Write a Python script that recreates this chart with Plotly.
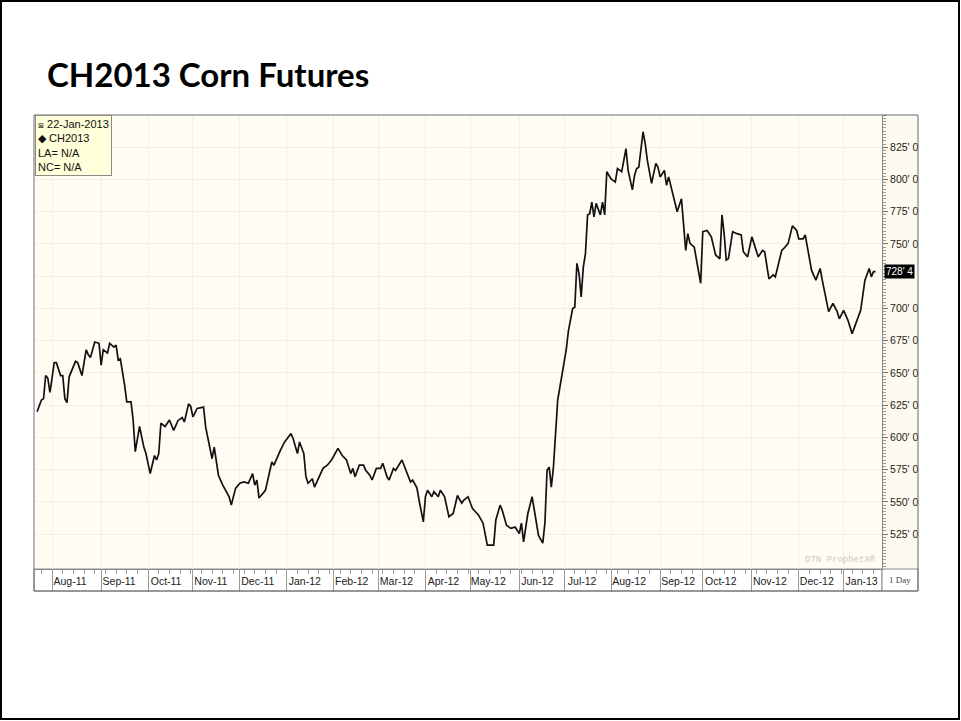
import plotly.graph_objects as go

# ---------------- data (daily closes, cents/bu) ----------------
dates = [
    "2011-07-21", "2011-07-25", "2011-07-26", "2011-07-27", "2011-07-28", "2011-07-29",
    "2011-08-01", "2011-08-02", "2011-08-03", "2011-08-05", "2011-08-08", "2011-08-09",
    "2011-08-10", "2011-08-11", "2011-08-16", "2011-08-17", "2011-08-19", "2011-08-23",
    "2011-08-24", "2011-08-25", "2011-08-29", "2011-08-31", "2011-09-01", "2011-09-02",
    "2011-09-06", "2011-09-07", "2011-09-09", "2011-09-12", "2011-09-13", "2011-09-14",
    "2011-09-16", "2011-09-19", "2011-09-21", "2011-09-22", "2011-09-23", "2011-09-27",
    "2011-09-29", "2011-09-30", "2011-10-04", "2011-10-06", "2011-10-07", "2011-10-10",
    "2011-10-11", "2011-10-13", "2011-10-17", "2011-10-19", "2011-10-21", "2011-10-25",
    "2011-10-26", "2011-10-28", "2011-10-31", "2011-11-01", "2011-11-03", "2011-11-08",
    "2011-11-09", "2011-11-14", "2011-11-15", "2011-11-17", "2011-11-21", "2011-11-24",
    "2011-11-25", "2011-11-29", "2011-12-01", "2011-12-05", "2011-12-07", "2011-12-09",
    "2011-12-12", "2011-12-13", "2011-12-14", "2011-12-19", "2011-12-22", "2011-12-23",
    "2011-12-28", "2011-12-30", "2012-01-04", "2012-01-05", "2012-01-09", "2012-01-10",
    "2012-01-12", "2012-01-13", "2012-01-16", "2012-01-18", "2012-01-19", "2012-01-23",
    "2012-01-25", "2012-01-27", "2012-01-31", "2012-02-03", "2012-02-07", "2012-02-09",
    "2012-02-13", "2012-02-14", "2012-02-15", "2012-02-17", "2012-02-21", "2012-02-22",
    "2012-02-24", "2012-02-27", "2012-02-29", "2012-03-02", "2012-03-05", "2012-03-07",
    "2012-03-08", "2012-03-12", "2012-03-13", "2012-03-16", "2012-03-20", "2012-03-22",
    "2012-03-23", "2012-03-27", "2012-03-28", "2012-03-30", "2012-04-02", "2012-04-03",
    "2012-04-05", "2012-04-06", "2012-04-10", "2012-04-11", "2012-04-13", "2012-04-17",
    "2012-04-19", "2012-04-23", "2012-04-25", "2012-04-26", "2012-04-30", "2012-05-02",
    "2012-05-07", "2012-05-09", "2012-05-11", "2012-05-16", "2012-05-17", "2012-05-21",
    "2012-05-22", "2012-05-24", "2012-05-28", "2012-05-30", "2012-06-01", "2012-06-04",
    "2012-06-05", "2012-06-07", "2012-06-11", "2012-06-12", "2012-06-14", "2012-06-18",
    "2012-06-19", "2012-06-20", "2012-06-21", "2012-06-22", "2012-06-25", "2012-06-27",
    "2012-06-29", "2012-07-03", "2012-07-04", "2012-07-06", "2012-07-09", "2012-07-10",
    "2012-07-11", "2012-07-12", "2012-07-13", "2012-07-16", "2012-07-17", "2012-07-18",
    "2012-07-19", "2012-07-20", "2012-07-23", "2012-07-25", "2012-07-26", "2012-07-27",
    "2012-07-30", "2012-08-01", "2012-08-03", "2012-08-06", "2012-08-08", "2012-08-10",
    "2012-08-13", "2012-08-15", "2012-08-16", "2012-08-17", "2012-08-20", "2012-08-22",
    "2012-08-23", "2012-08-24", "2012-08-28", "2012-08-30", "2012-08-31", "2012-09-03",
    "2012-09-05", "2012-09-06", "2012-09-07", "2012-09-11", "2012-09-13", "2012-09-17",
    "2012-09-18", "2012-09-19", "2012-09-20", "2012-09-21", "2012-09-25", "2012-09-28",
    "2012-10-01", "2012-10-03", "2012-10-05", "2012-10-09", "2012-10-11", "2012-10-12",
    "2012-10-15", "2012-10-16", "2012-10-17", "2012-10-19", "2012-10-23", "2012-10-25",
    "2012-10-26", "2012-10-30", "2012-11-01", "2012-11-02", "2012-11-06", "2012-11-08",
    "2012-11-09", "2012-11-13", "2012-11-15", "2012-11-16", "2012-11-21", "2012-11-22",
    "2012-11-26", "2012-11-28", "2012-11-30", "2012-12-03", "2012-12-05", "2012-12-06",
    "2012-12-10", "2012-12-11", "2012-12-13", "2012-12-17", "2012-12-18", "2012-12-21",
    "2012-12-25", "2012-12-27", "2012-12-28", "2013-01-01", "2013-01-03", "2013-01-07",
    "2013-01-11", "2013-01-15", "2013-01-17", "2013-01-18", "2013-01-21", "2013-01-22",
]
closes = [
    620, 629, 630, 648, 646, 635,
    646, 658, 658, 648, 648, 630,
    627, 647, 659, 658, 648, 668,
    664, 662, 674, 673, 656, 668,
    665.5, 673, 670, 671.5, 660, 661,
    640.5, 627.5, 627.5, 613.5, 589, 608.5,
    592.5, 587.5, 572, 586, 582.5, 587.5,
    611, 608.5, 613.5, 605.5, 613, 615.5,
    612, 626, 624, 616, 622.5, 623.5,
    608, 583.5, 592.5, 570.5, 563, 554,
    547.5, 560.5, 564.5, 565.5, 564.5, 572,
    563, 567, 553, 559, 581, 578.5,
    590, 596.5, 603, 599, 587.5, 596.5,
    587.5, 569.5, 564.5, 568, 561.5, 569.5,
    576, 578.5, 582.5, 591.5, 586, 582.5,
    572, 576, 569.5, 578.5, 578.5, 574.5,
    570.5, 567, 576, 576, 580, 569.5,
    567, 576, 574.5, 582.5, 574.5, 565.5,
    567, 561, 551.5, 534.5, 554, 559,
    554, 558, 554, 559, 554, 538.5,
    541, 555, 549, 551.5, 554, 545,
    539.5, 533.5, 516.5, 516.5, 536, 547.5,
    543.5, 532, 529.5, 530.5, 525.5, 533.5,
    519, 541, 554, 543.5, 524, 518,
    533.5, 574.5, 577, 561.5, 577, 629,
    650, 668, 682.5, 700, 701, 735,
    727, 709, 732, 742.5, 772.5, 773.5,
    782.5, 771, 781.5, 772.5, 782.5, 772.5,
    806, 800.5, 798, 808.5, 806, 824,
    807, 792, 803, 808.5, 809.5, 837,
    828, 815, 797, 812.5, 809.5, 802,
    807, 795.5, 802, 788, 775, 785,
    763, 745, 758, 750.5, 747.5, 719.5,
    759.5, 760.5, 755.5, 741.5, 738.5, 772.5,
    758, 737.5, 738.5, 759.5, 758, 757,
    744, 740, 755.5, 750.5, 740, 745,
    744, 723, 726, 724.5, 745, 746.5,
    750.5, 764, 760.5, 754, 754, 757,
    737.5, 729.5, 722, 731, 722, 697.5,
    704, 697.5, 692, 698.5, 691, 680.5,
    698.5, 722, 731, 724.5, 728.5, 728.5,
]

month_ticks = [
    "2011-08-01", "2011-09-01", "2011-10-03", "2011-11-01", "2011-12-01",
    "2012-01-02", "2012-02-01", "2012-03-01", "2012-04-02", "2012-05-01",
    "2012-06-01", "2012-07-02", "2012-08-01", "2012-09-03", "2012-10-01",
    "2012-11-01", "2012-12-03", "2013-01-01",
]
month_labels = [
    "Aug-11", "Sep-11", "Oct-11", "Nov-11", "Dec-11", "Jan-12", "Feb-12",
    "Mar-12", "Apr-12", "May-12", "Jun-12", "Jul-12", "Aug-12", "Sep-12",
    "Oct-12", "Nov-12", "Dec-12", "Jan-13",
]
price_ticks = [525, 550, 575, 600, 625, 650, 675, 700, 725, 750, 775, 800, 825]
price_labels = ["525' 0", "550' 0", "575' 0", "600' 0", "625' 0", "650' 0", "675' 0",
                "700' 0", "", "750' 0", "775' 0", "800' 0", "825' 0"]
last_price = 728.5
last_label = "728' 4"
legend_lines = ["<span style='font-size:7px'>\u22a0</span> 22-Jan-2013", "\u25c6 CH2013",
                "LA= N/A", "NC= N/A"]

# ---------------- layout geometry (pixels) ----------------
W, H = 961, 721
L, R, T, B = 35, 882, 115, 569      # plot area
PANEL_R, STRIP_B = 918, 591          # right label panel / bottom strip
pw, ph = R - L, B - T


def px(x):
    return (x - L) / pw


def py(y):
    return (B - y) / ph


FONT = "Liberation Sans, Arial, sans-serif"

fig = go.Figure()
fig.add_trace(go.Scatter(
    x=dates, y=closes, mode="lines",
    line=dict(color="#111111", width=1.7),
    hoverinfo="x+y", showlegend=False,
))

shapes = [
    # slide frame
    dict(type="rect", xref="paper", yref="paper", x0=px(1), x1=px(W - 2), y0=py(H - 2), y1=py(1),
         line=dict(color="#000000", width=2), fillcolor="rgba(0,0,0,0)", layer="above"),
    # right label panel
    dict(type="rect", xref="paper", yref="paper", x0=px(R), x1=px(PANEL_R), y0=py(B), y1=py(T),
         line=dict(width=0), fillcolor="#FDFBF1", layer="below"),
    # bottom strip
    dict(type="rect", xref="paper", yref="paper", x0=px(L - 1), x1=px(R), y0=py(STRIP_B), y1=py(B),
         line=dict(color="#8a8a8a", width=1), fillcolor="#FFFFFF", layer="below"),
    # "1 Day" box
    dict(type="rect", xref="paper", yref="paper", x0=px(R), x1=px(PANEL_R), y0=py(STRIP_B), y1=py(B),
         line=dict(color="#8a8a8a", width=1), fillcolor="#FFFFFF", layer="below"),
    # chart frame
    dict(type="rect", xref="paper", yref="paper", x0=px(L - 1), x1=px(PANEL_R), y0=py(STRIP_B), y1=py(T),
         line=dict(color="#6a6a6a", width=1), fillcolor="rgba(0,0,0,0)", layer="above"),
]

annotations = [
    dict(xref="paper", yref="paper", x=0, y=1, xanchor="left", yanchor="top",
         text="<br>".join(legend_lines), align="left", showarrow=False,
         font=dict(family=FONT, size=11, color="#111111"),
         bgcolor="#FFFFDA", bordercolor="#8a8a8a", borderwidth=1, borderpad=2),
    dict(xref="paper", yref="y", x=1, y=last_price, xanchor="left", yanchor="middle",
         xshift=2, text=last_label, showarrow=False,
         font=dict(family=FONT, size=10, color="#FFFFFF"),
         bgcolor="#000000", borderpad=1),
    dict(xref="paper", yref="paper", x=px((R + PANEL_R) / 2), y=py((B + STRIP_B) / 2),
         xanchor="center", yanchor="middle", text="1 Day", showarrow=False,
         font=dict(family="Liberation Serif, serif", size=9, color="#444444")),
    dict(xref="paper", yref="paper", x=px(R - 4), y=py(560), xanchor="right", yanchor="middle",
         text="DTN ProphetX\u00ae", showarrow=False,
         font=dict(family="Liberation Mono, monospace", size=9, color="#C8C8C8")),
]

fig.update_layout(
    width=W, height=H,
    margin=dict(l=L, r=W - R, t=T, b=H - B, pad=0),
    paper_bgcolor="#FFFFFF",
    plot_bgcolor="#FFFCF4",
    title=dict(text="<b>CH2013 Corn Futures</b>", xref="container", yref="container",
               x=47 / W, xanchor="left", y=1 - 75 / H, yanchor="middle",
               font=dict(family="Lato, Open Sans, sans-serif", size=33, color="#000000")),
    shapes=shapes,
    annotations=annotations,
    showlegend=False,
    xaxis=dict(
        type="date",
        range=["2011-07-20", "2013-01-25"],
        rangebreaks=[dict(bounds=["sat", "mon"])],
        tickmode="array", tickvals=month_ticks, ticktext=month_labels,
        ticks="outside", ticklen=22, tickcolor="#9a9a9a", tickwidth=1,
        ticklabelshift=18, ticklabelstandoff=-20,
        tickfont=dict(family=FONT, size=10.5, color="#222222"),
        showgrid=True, gridcolor="#F3EFE4", gridwidth=1,
        showline=True, linecolor="#8a8a8a", linewidth=1,
        minor=dict(ticks="outside", ticklen=4, tickcolor="#9a9a9a",
                   dtick=7 * 86400000, tick0="2011-07-25", showgrid=False),
        zeroline=False, fixedrange=True,
    ),
    yaxis=dict(
        side="right",
        range=[498, 850],
        tickmode="array", tickvals=price_ticks, ticktext=price_labels,
        ticks="outside", ticklen=5, tickcolor="#777777",
        tickfont=dict(family=FONT, size=10.5, color="#222222"),
        showgrid=True, gridcolor="#F3EFE4", gridwidth=1,
        showline=True, linecolor="#8a8a8a", linewidth=1,
        minor=dict(ticks="outside", ticklen=3, tickcolor="#999999",
                   dtick=2.5, tick0=500, showgrid=False),
        zeroline=False, fixedrange=True,
    ),
)

fig.write_html("out.html", config={"displayModeBar": False},
               post_script="document.body.style.margin='0';")
